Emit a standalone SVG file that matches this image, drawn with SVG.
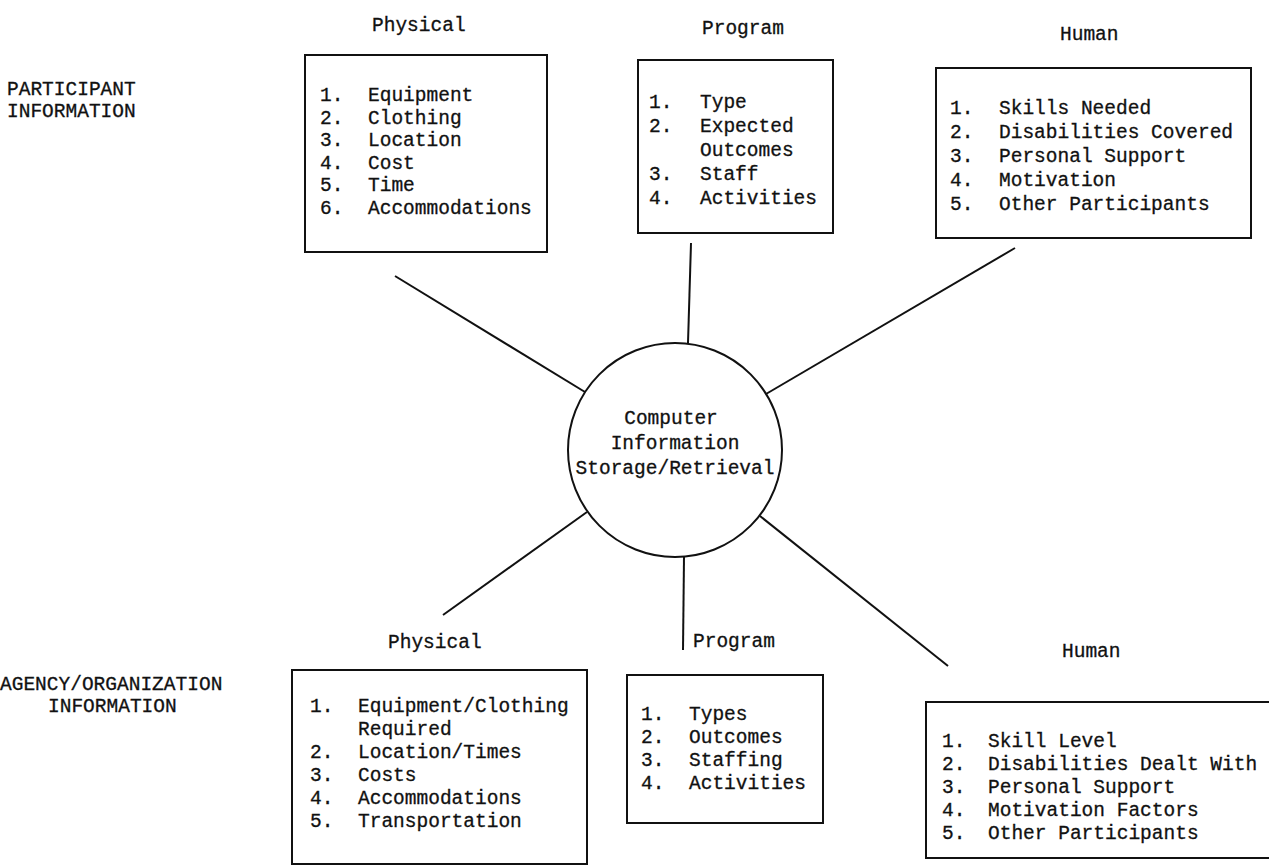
<svg xmlns="http://www.w3.org/2000/svg" width="1269" height="867" viewBox="0 0 1269 867">
<style>
text{font-family:"Liberation Mono","Courier New",monospace;font-size:19.5px;fill:#111;stroke:#111;stroke-width:0.3}
.box{fill:none;stroke:#111;stroke-width:2}
.ln{stroke:#111;stroke-width:2;fill:none}
</style>
<rect width="1269" height="867" fill="#fff"/>
<g id="labels">
<text x="7" y="95">PARTICIPANT</text>
<text x="7" y="117">INFORMATION</text>
<text x="0" y="690">AGENCY/ORGANIZATION</text>
<text x="48" y="712">INFORMATION</text>
</g>
<g id="connectors">
<line class="ln" x1="395" y1="276" x2="585" y2="392"/>
<line class="ln" x1="691" y1="243" x2="688" y2="343"/>
<line class="ln" x1="1015" y1="248" x2="766" y2="394"/>
<line class="ln" x1="443" y1="615" x2="587" y2="512"/>
<line class="ln" x1="684" y1="557" x2="683" y2="650"/>
<line class="ln" x1="948" y1="666" x2="760" y2="516"/>
</g>
<g id="center">
<circle cx="675" cy="450" r="107" class="box"/>
<text x="671" y="424" text-anchor="middle">Computer</text>
<text x="675" y="449" text-anchor="middle">Information</text>
<text x="675" y="474" text-anchor="middle">Storage/Retrieval</text>
</g>
<g id="top-physical">
<text x="372" y="31">Physical</text>
<rect class="box" x="305" y="55" width="242" height="197"/>
<text x="320" y="101">1.</text><text x="368" y="101">Equipment</text>
<text x="320" y="123.5">2.</text><text x="368" y="123.5">Clothing</text>
<text x="320" y="146">3.</text><text x="368" y="146">Location</text>
<text x="320" y="168.5">4.</text><text x="368" y="168.5">Cost</text>
<text x="320" y="191">5.</text><text x="368" y="191">Time</text>
<text x="320" y="213.5">6.</text><text x="368" y="213.5">Accommodations</text>
</g>
<g id="top-program">
<text x="702" y="34">Program</text>
<rect class="box" x="638" y="60" width="195" height="173"/>
<text x="649" y="108">1.</text><text x="700" y="108">Type</text>
<text x="649" y="132">2.</text><text x="700" y="132">Expected</text>
<text x="700" y="156">Outcomes</text>
<text x="649" y="180">3.</text><text x="700" y="180">Staff</text>
<text x="649" y="204">4.</text><text x="700" y="204">Activities</text>
</g>
<g id="top-human">
<text x="1060" y="40">Human</text>
<rect class="box" x="936" y="68" width="315" height="170"/>
<text x="950" y="114">1.</text><text x="999" y="114">Skills Needed</text>
<text x="950" y="138">2.</text><text x="999" y="138">Disabilities Covered</text>
<text x="950" y="162">3.</text><text x="999" y="162">Personal Support</text>
<text x="950" y="186">4.</text><text x="999" y="186">Motivation</text>
<text x="950" y="210">5.</text><text x="999" y="210">Other Participants</text>
</g>
<g id="bottom-physical">
<text x="388" y="648">Physical</text>
<rect class="box" x="292" y="670" width="295" height="194"/>
<text x="310" y="712">1.</text><text x="358" y="712">Equipment/Clothing</text>
<text x="358" y="735">Required</text>
<text x="310" y="758">2.</text><text x="358" y="758">Location/Times</text>
<text x="310" y="781">3.</text><text x="358" y="781">Costs</text>
<text x="310" y="804">4.</text><text x="358" y="804">Accommodations</text>
<text x="310" y="827">5.</text><text x="358" y="827">Transportation</text>
</g>
<g id="bottom-program">
<text x="693" y="647">Program</text>
<rect class="box" x="627" y="675" width="196" height="148"/>
<text x="641" y="720">1.</text><text x="689" y="720">Types</text>
<text x="641" y="743">2.</text><text x="689" y="743">Outcomes</text>
<text x="641" y="766">3.</text><text x="689" y="766">Staffing</text>
<text x="641" y="789">4.</text><text x="689" y="789">Activities</text>
</g>
<g id="bottom-human">
<text x="1062" y="657">Human</text>
<rect class="box" x="926" y="702" width="350" height="156"/>
<text x="942" y="747">1.</text><text x="988" y="747">Skill Level</text>
<text x="942" y="770">2.</text><text x="988" y="770">Disabilities Dealt With</text>
<text x="942" y="793">3.</text><text x="988" y="793">Personal Support</text>
<text x="942" y="816">4.</text><text x="988" y="816">Motivation Factors</text>
<text x="942" y="839">5.</text><text x="988" y="839">Other Participants</text>
</g>
</svg>
